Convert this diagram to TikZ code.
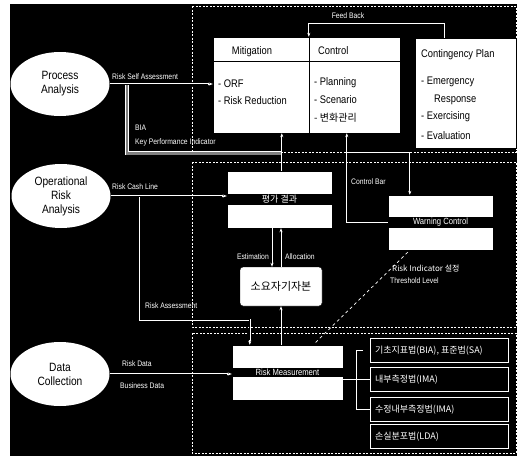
\documentclass[tikz,border=0pt]{standalone}
\usepackage{fontspec}
\setmainfont{Liberation Sans}[FakeStretch=0.85]
\newfontfamily\krfont{Noto Sans CJK KR}
\usetikzlibrary{calc,arrows.meta,shapes.geometric}

\begin{document}
\begin{tikzpicture}[x=1pt,y=-1pt,
	oval/.style={ellipse, fill=white, inner sep=0pt, minimum width=99pt, minimum height=64pt, align=center, font=\fontsize{12}{14}\selectfont},
	zone/.style={draw=white, line width=0.6pt, dash pattern=on 2pt off 1.5pt},
	wline/.style={draw=white, line width=0.7pt, -{Stealth[length=4pt]}},
	dline/.style={draw=white, line width=0.8pt, double=black, double distance=1pt},
	gline/.style={draw=white, line width=0.6pt, double=gray, double distance=2.6pt},
	cell/.style={draw=black, fill=white, inner sep=0pt},
	band/.style={draw=black, fill=white, inner sep=0pt},
	bandtext/.style={fill=black, text=white, inner sep=1pt, minimum width=#1, font=\fontsize{9}{10}\selectfont},
	method/.style={draw=white, fill=black, text=white, inner sep=0pt, minimum width=138pt, minimum height=24pt, font=\krfont\fontsize{9}{10}\selectfont},
	lbl/.style={text=white, inner sep=0pt, font=\fontsize{8}{9}\selectfont},
	item/.style={anchor=west, inner sep=0pt, font=\fontsize{11}{12}\selectfont}
	]
	\useasboundingbox (0,0) rectangle (517,456);
	\fill[white] (0,0) rectangle (517,456);
	\fill[black] (10,4) rectangle (517,456);
	
	% dashed regions
	\foreach \ya/\yb in {6/152,162/327,333/453}{
		\draw[zone] (192,\ya) rectangle (516,\yb);
	}
	
	% left column
	\node[oval] (proc) at (60,84) {Process\\Analysis};
	\node[oval] (ora) at (61,196) {Operational\\Risk\\Analysis};
	\node[oval] (data) at (60,374) {Data\\Collection};
	
	% mitigation / control
	\node[cell, minimum width=96pt, minimum height=96pt] (mit) at (261,85) {};
	\node[cell, minimum width=91pt, minimum height=96pt] (ctl) at (354.5,85) {};
	\draw ($(mit.north west)+(0,24)$) -- ($(ctl.north east)+(0,24)$);
	\node[item, anchor=base] at (252,54) {Mitigation};
	\node[item, anchor=base west] at (318,54) {Control};
	\node[item] at (218,84) {- ORF};
	\node[item] at (218,101) {- Risk Reduction};
	\node[item] at (314,83) {- Planning};
	\node[item] at (314,100) {- Scenario};
	\node[item, font=\krfont\fontsize{10}{12}\selectfont] at (314,118) {- 변화관리};
	
	% contingency plan
	\node[cell, minimum width=101pt, minimum height=110pt] (cp) at (465.5,93) {};
	\node[item] at (421,55) {Contingency Plan};
	\node[item] at (421,82) {- Emergency};
	\node[item] at (434,100) {Response};
	\node[item] at (421,117) {- Exercising};
	\node[item] at (421,136) {- Evaluation};
	
	% feed back
	\draw[wline] ($(cp.north west)+(30,0)$) -- ++(0,-14) -| (ctl.north west);
	\node[lbl] at (348,16) {Feed Back};
	
	% middle boxes
	\node[band, minimum width=105pt, minimum height=57pt] (eval) at (279.5,199.5) {};
	\node[bandtext=105pt, font=\krfont\fontsize{9}{10}\selectfont] at (eval) {평가 결과};
	\node[band, minimum width=105pt, minimum height=55pt] (warn) at (440.5,222.5) {};
	\node[bandtext=105pt] at (warn) {Warning Control};
	\node[cell, rounded corners=3pt, minimum width=82pt, minimum height=39pt, font=\krfont\fontsize{11}{12}\selectfont] (cap) at (281,286.5) {소요자기자본};
	
	% bottom boxes
	\node[band, minimum width=111pt, minimum height=55pt] (meas) at (287.5,372.5) {};
	\node[bandtext=111pt] at (meas) {Risk Measurement};
	\foreach \i/\y/\t in {1/350.5/{기초지표법(BIA), 표준법(SA)},2/379.5/{내부측정법(IMA)},3/409.5/{수정내부측정법(IMA)},4/436.5/{손실분포법(LDA)}}{
		\node[method] (m\i) at (439,\y) {};
		\node[anchor=west, text=white, inner sep=0pt, font=\krfont\fontsize{9}{10}\selectfont] at ($(m\i.west)+(5,0)$) {\t};
	}
	
	% process analysis
	\coordinate (bia) at (127,84);
	\coordinate (biaEnd) at ($(mit.south west)+(69,0)$);
	\draw[gline] (bia) |- ($(biaEnd)+(0,20)$);
	\draw[dline] (proc.east) -- ($(mit.west |- proc.east)+(-4,0)$);
	\draw[wline] ($(mit.west |- proc.east)+(-5,0)$) -- (mit.west |- proc.east);
	\node[lbl, anchor=west] at (112,77) {Risk Self Assessment};
	\node[lbl, anchor=west] at (135,128) {BIA};
	\node[lbl, anchor=west] at (135,142) {Key Performance Indicator};
	\draw[wline] (biaEnd |- eval.north) -- (biaEnd);
	
	% control bar
	\coordinate (cb) at ($(ctl.south west)+(38,0)$);
	\coordinate (cw) at ($(cb)+(63,19)$);
	\draw[wline] (warn.west) -| (cb);
	\draw[wline] (cb |- cw) -- (cw) -- (cw |- warn.north);
	\node[lbl, anchor=west] at (351,182) {Control Bar};
	
	% operational risk analysis
	\coordinate (raTop) at (140,196);
	\coordinate (raEnd) at ($(meas.north west)+(18,0)$);
	\draw[dline] (raTop) |- ($(raEnd)+(0,-25)$) -- ($(raEnd)+(0,-4)$);
	\draw[wline] ($(raEnd)+(0,-5)$) -- (raEnd);
	\draw[dline] (ora.east) -- ($(eval.west |- ora.east)+(-4,0)$);
	\draw[wline] ($(eval.west |- ora.east)+(-5,0)$) -- (eval.west |- ora.east);
	\node[lbl, anchor=west] at (112,187) {Risk Cash Line};
	\node[lbl, anchor=west] at (145,306) {Risk Assessment};
	
	% capital
	\coordinate (e1) at ($(cap.north)+(-9,0)$);
	\draw[wline] (e1 |- eval.south) -- (e1);
	\draw[wline] (cap.north) -- (cap.north |- eval.south);
	\node[lbl, anchor=east] at (269,257) {Estimation};
	\node[lbl, anchor=west] at (285,257) {Allocation};
	\draw[wline] (meas.north -| cap.south) -- (cap.south);
	
	% threshold
	\draw[draw=white, line width=0.7pt, dashed] ($(warn.south west)+(20,2)$) -- ($(meas.north east)+(-28,-2)$);
	\node[lbl, anchor=west, font=\krfont\fontsize{8}{9}\selectfont] at (392,268) {Risk Indicator 설정};
	\node[lbl, anchor=west] at (390,281) {Threshold Level};
	
	% data collection
	\draw[dline] (data.east) -- ($(meas.west |- data.east)+(-4,0)$);
	\draw[wline] ($(meas.west |- data.east)+(-5,0)$) -- (meas.west |- data.east);
	\node[lbl, anchor=west] at (122,364) {Risk Data};
	\node[lbl, anchor=west] at (120,386) {Business Data};
	
	% measurement methods
	\draw[draw=white, line width=1pt] (meas.east |- m2.west) -- (m2.west);
	\draw[draw=white, line width=0.7pt] ($(m1.west)+(-7,0)$) -| ($(m3.west)+(-13,0)$) -- (m3.west);
\end{tikzpicture}
\end{document}
